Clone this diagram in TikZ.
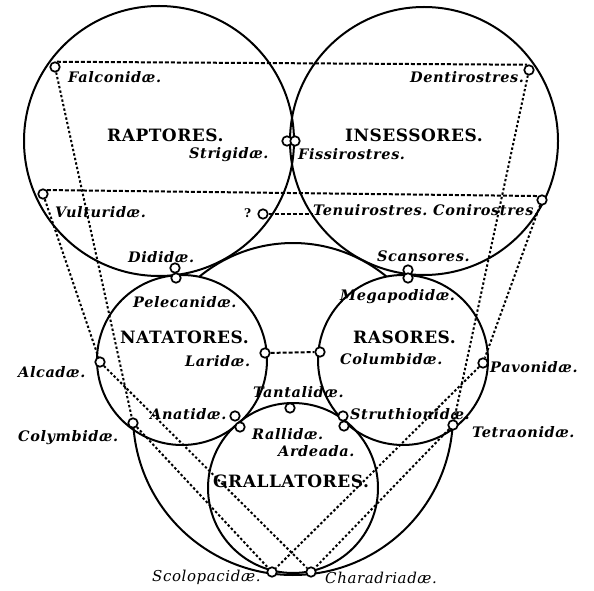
\documentclass[tikz,border=0pt]{standalone}
\usepackage{fontspec}
\setmainfont{DejaVu Serif}
\pgfdeclarelayer{bg}
\pgfsetlayers{bg,main}
\begin{document}
\begin{tikzpicture}[x=1pt,y=1pt,
  ord/.style={font=\bfseries\fontsize{17}{17}\selectfont\addfontfeatures{LetterSpace=3}, inner sep=0, anchor=base west},
  fam/.style={font=\bfseries\itshape\fontsize{14.5}{14.5}\selectfont\addfontfeatures{LetterSpace=4}, inner sep=0, anchor=base west},
  famlight/.style={font=\itshape\fontsize{15}{15}\selectfont\addfontfeatures{LetterSpace=4}, inner sep=0, anchor=base west},
  knot/.style={circle, draw, fill=white, line width=1.7pt, minimum size=9.5pt, inner sep=0},
  ring/.style={line width=2pt},
  link/.style={line width=2pt, dash pattern=on 2.4pt off 2.2pt},
  hlink/.style={line width=2pt, dash pattern=on 4pt off 2pt}]
\useasboundingbox (0,0) rectangle (594,590);

% knots
\node[knot] (falc) at (55,523) {};
\node[knot] (dent) at (529,520) {};
\node[knot] (strig) at (287,449) {};
\node[knot] (fiss) at (295,449) {};
\node[knot] (vult) at (43,396) {};
\node[knot] (coni) at (542,390) {};
\node[knot] (q) at (263,376) {};
\node[knot] (did1) at (175,322) {};
\node[knot] (did2) at (176,312) {};
\node[knot] (sca1) at (408,320) {};
\node[knot] (sca2) at (408,312) {};
\node[knot] (alca) at (100,228) {};
\node[knot] (lari) at (265,237) {};
\node[knot] (colu) at (320,238) {};
\node[knot] (pavo) at (483,227) {};
\node[knot] (colym) at (133,167) {};
\node[knot] (anat) at (235,174) {};
\node[knot] (rall) at (240,163) {};
\node[knot] (tant) at (290,182) {};
\node[knot] (stru1) at (343,174) {};
\node[knot] (stru2) at (344,164) {};
\node[knot] (tetr) at (453,165) {};
\node[knot] (scol) at (272,18) {};
\node[knot] (char) at (311,18) {};

% order names
\node[ord] (traptores) at (107,448) {RAPTORES.};
\node[ord] (tinsessores) at (345,448) {INSESSORES.};
\node[ord] (tnatatores) at (120,247) {NATATORES.};
\node[ord] (trasores) at (353,247) {RASORES.};
\node[ord] (tgrallatores) at (213,103) {GRALLATORES.};

% family names
\node[fam] (tfalc) at (68,507) {Falconidæ.};
\node[fam] (tstrig) at (189,431) {Strigidæ.};
\node[fam] (tvult) at (55,372) {Vulturidæ.};
\node[fam, font=\bfseries\fontsize{12}{12}\selectfont] (tq) at (244,373) {?};
\node[fam] (tdid) at (128,327) {Dididæ.};
\node[fam] (tdent) at (410,507) {Dentirostres.};
\node[fam] (tfiss) at (298,430) {Fissirostres.};
\node[fam] (ttenui) at (313,374) {Tenuirostres.};
\node[fam] (tconi) at (433,374) {Conirostres.};
\node[fam] (tsca) at (377,329) {Scansores.};
\node[fam] (tpele) at (133,283) {Pelecanidæ.};
\node[fam] (tlari) at (185,224) {Laridæ.};
\node[fam] (talca) at (18,213) {Alcadæ.};
\node[fam] (tanat) at (150,171) {Anatidæ.};
\node[fam] (tcolym) at (18,149) {Colymbidæ.};
\node[fam] (ttant) at (253,193) {Tantalidæ.};
\node[fam] (trall) at (252,151) {Rallidæ.};
\node[fam] (tarde) at (278,134) {Ardeada.};
\node[fam] (tmega) at (340,290) {Megapodidæ.};
\node[fam] (tcolu) at (340,226) {Columbidæ.};
\node[fam] (tpavo) at (490,218) {Pavonidæ.};
\node[fam] (tstru) at (350,171) {Struthionidæ.};
\node[fam] (ttetr) at (472,153) {Tetraonidæ.};
\node[famlight] (tscol) at (152,9) {Scolopacidæ.};
\node[famlight] (tchar) at (325,7) {Charadriadæ.};

\begin{pgfonlayer}{bg}
% circles of the orders
\draw[ring] (159,449) circle[radius=135];
\draw[ring] (424,449) circle[radius=134];
\draw[ring] (182,230) circle[radius=85];
\draw[ring] (403,230) circle[radius=85];
\draw[ring] (293,102) circle[radius=85];
% enclosing arcs
\draw[ring] (293,200) ++(50.5:147) arc[start angle=50.5, end angle=129.5, radius=147];
\draw[ring] (293,175) ++(182.9:160) arc[start angle=182.9, end angle=356.4, radius=160];
% dotted affinities
\draw[hlink] (falc.70) -- (dent.110);
\draw[hlink] (vult.45) -- (coni.135);
\draw[hlink] (q) -- (q -| ttenui.west);
\draw[hlink] (lari) -- (colu);
\draw[link] (falc) -- (colym);
\draw[link] (vult) -- (alca);
\draw[link] (dent) -- (tetr);
\draw[link] (coni) -- (pavo);
\draw[link] (alca) -- (char);
\draw[link] (colym) -- (scol);
\draw[link] (pavo) -- (scol);
\draw[link] (tetr) -- (char);
\end{pgfonlayer}
\end{tikzpicture}
\end{document}
